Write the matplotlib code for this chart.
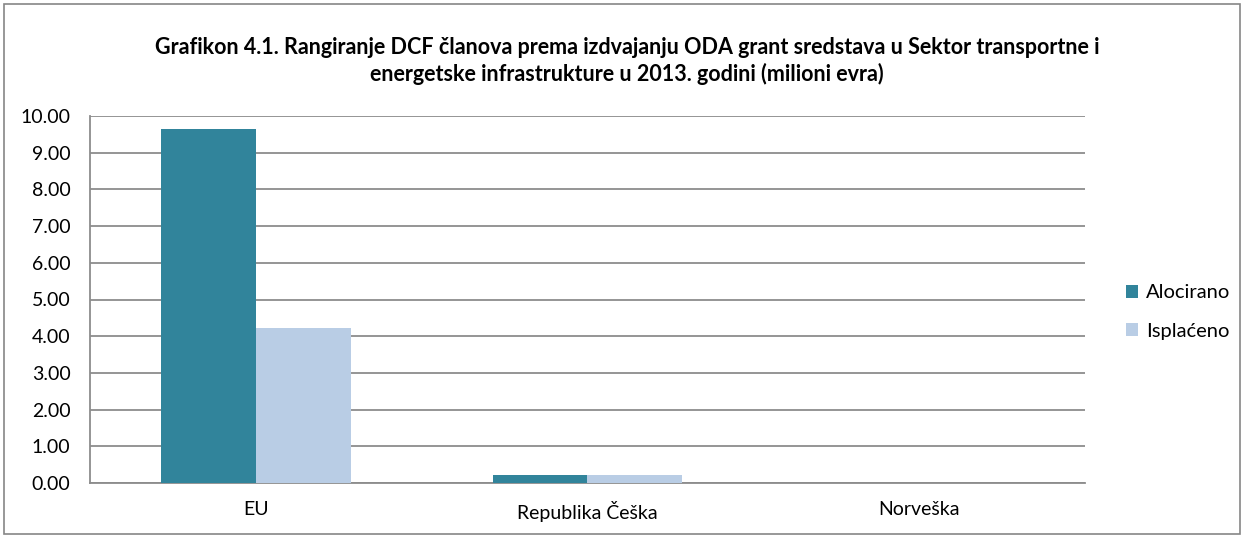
import matplotlib
matplotlib.use("Agg")
import matplotlib.pyplot as plt
import numpy as np
from matplotlib.patches import Rectangle

categories = ["EU", "Republika Češka", "Norveška"]
alocirano = [9.65, 0.22, 0.0]
isplaceno = [4.23, 0.22, 0.0]
series_names = ["Alocirano", "Isplaćeno"]
yticks = [0, 1, 2, 3, 4, 5, 6, 7, 8, 9, 10]

plt.rcParams['font.family'] = ['Lato', 'DejaVu Sans']

fig = plt.figure(figsize=(12.44, 5.38), dpi=100)
fig.patches.append(Rectangle((4/1244, 4/538), 1236/1244, 530/538, transform=fig.transFigure,
                             fill=False, edgecolor='#868686', linewidth=1.2))
ax = fig.add_axes([90/1244, 1-483/538, (1085-90)/1244, (483-116)/538])

x = np.arange(len(categories))
w = 0.286
ax.bar(x - w/2, alocirano, w, color='#31849B', label=series_names[0], zorder=3)
ax.bar(x + w/2, isplaceno, w, color='#B9CDE5', label=series_names[1], zorder=3)

ax.set_xlim(-0.5, 2.5)
ax.set_ylim(0, 10)
ax.set_yticks(yticks)
ax.set_yticklabels([f"{v:.2f}" for v in yticks], fontsize=14)
ax.set_xticks(x)
ax.set_xticklabels(categories, fontsize=14)
ax.tick_params(axis='y', length=0, pad=14)
ax.tick_params(axis='x', length=0, pad=13)
ax.yaxis.grid(True, color='#8c8c8c', linewidth=1.3, zorder=0)
for s in ['right', 'top']:
    ax.spines[s].set_visible(False)
for s in ['bottom', 'left']:
    ax.spines[s].set_color('#8c8c8c')
    ax.spines[s].set_linewidth(1.3)

fig.text(627/1244, 1 - 61/538,
         "Grafikon 4.1. Rangiranje DCF članova prema izdvajanju ODA grant sredstava u Sektor transportne i\nenergetske infrastrukture u 2013. godini (milioni evra)",
         ha='center', va='center', fontsize=15.5, fontweight='bold', linespacing=1.3)

ax.legend(loc='center left', bbox_to_anchor=(1108/1244, 1 - 312/538), bbox_transform=fig.transFigure,
          frameon=False, fontsize=14.5, handlelength=0.6, handleheight=0.6, handletextpad=0.4,
          labelspacing=1.05)

fig.savefig("out.png", dpi=100)
